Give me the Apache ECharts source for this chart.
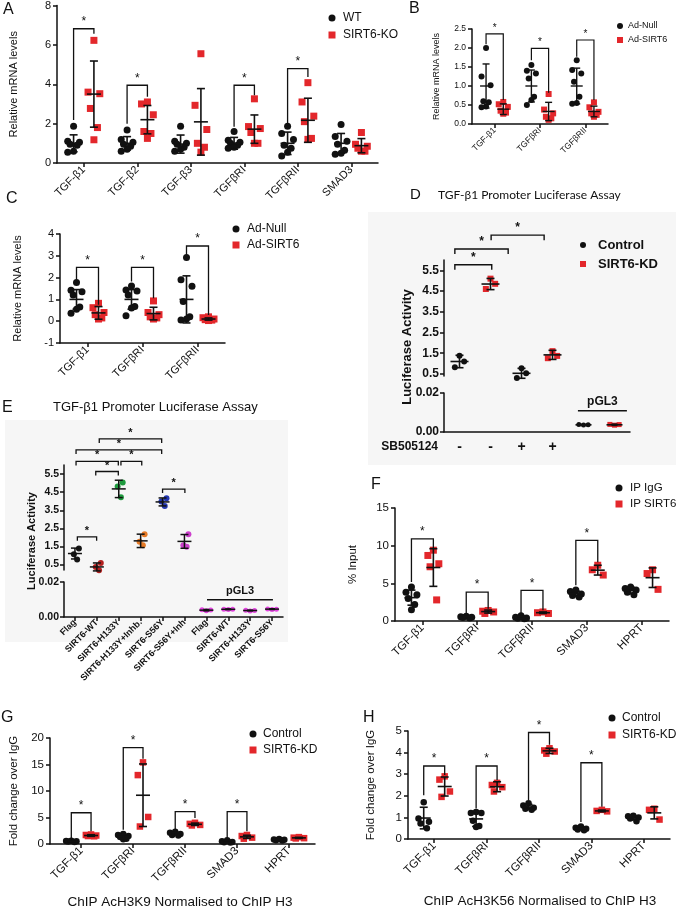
<!DOCTYPE html>
<html>
<head>
<meta charset="utf-8">
<script src="https://cdn.jsdelivr.net/npm/echarts@6.0.0/dist/echarts.min.js"></script>
<style>
  html, body { margin: 0; padding: 0; background: #fff; }
  #chart { width: 676px; height: 908px; }
</style>
</head>
<body>
<div id="chart"></div>
<script>
// ---- A: mouse tissue, WT vs SIRT6-KO
const genesA = ['TGF-β1', 'TGF-β2', 'TGF-β3', 'TGFβRI', 'TGFβRII', 'SMAD3'];
const wtA = [
  [1.87, 1.1, 1.05, 0.95, 0.9, 0.6, 0.55],
  [1.67, 1.2, 1.05, 0.95, 0.85, 0.7, 0.6],
  [1.87, 1.1, 1.0, 0.95, 0.8, 0.7, 0.6],
  [1.6, 1.15, 1.05, 1.0, 0.9, 0.8, 0.75],
  [1.87, 1.5, 1.2, 0.9, 0.75, 0.55, 0.35],
  [1.95, 1.35, 1.1, 0.95, 0.65, 0.5, 0.45]
];
const wtMeanA = [1.0, 1.0, 0.96, 1.0, 1.0, 1.0];
const wtSdA = [0.43, 0.34, 0.46, 0.3, 0.57, 0.5];
const koA = [
  [6.23, 3.6, 3.52, 2.77, 1.8, 1.18],
  [3.1, 3.0, 2.45, 1.6, 1.5, 1.25],
  [5.55, 2.93, 1.7, 1.0, 0.8, 0.55],
  [3.26, 1.85, 1.75, 1.55, 1.0, 1.0],
  [4.08, 3.1, 2.38, 2.1, 1.25, 1.2],
  [1.55, 0.95, 0.85, 0.75, 0.6, 0.6]
];
const koMeanA = [3.5, 2.2, 2.09, 1.72, 2.17, 0.88];
const koSdA = [1.68, 0.72, 1.69, 0.72, 1.12, 0.36];
// [category, left leg end, bracket top, right leg end]
const sigA = [[0, 2.18, 6.82, 6.57], [1, 2.0, 3.95, 3.36], [3, 1.84, 3.95, 3.44], [4, 2.0, 4.79, 4.37]];

// ---- B / C: Ad-Null vs Ad-SIRT6
const genesB = ['TGF-β1', 'TGFβRI', 'TGFβRII'];
const nullB = [
  [2.0, 1.25, 1.02, 0.6, 0.57, 0.46, 0.44],
  [1.55, 1.4, 1.33, 1.2, 0.72, 0.63, 0.5],
  [1.68, 1.42, 1.33, 1.11, 0.72, 0.55, 0.53]
];
const nullMeanB = [1.0, 1.0, 1.0];
const nullSdB = [0.58, 0.42, 0.47];
const sirtB = [
  [0.58, 0.52, 0.45, 0.35, 0.3, 0.27],
  [0.79, 0.38, 0.28, 0.19, 0.15, 0.11],
  [0.57, 0.44, 0.32, 0.28, 0.24, 0.19]
];
const sirtMeanB = [0.39, 0.33, 0.33];
const sirtSdB = [0.14, 0.24, 0.14];
const sigB = [[0, 2.1, 2.37, 0.63], [1, 1.68, 1.99, 0.82], [2, 1.77, 2.21, 0.63]];

const genesC = ['TGF-β1', 'TGFβRI', 'TGFβRII'];
const nullC = [
  [1.77, 1.42, 1.35, 1.2, 0.65, 0.55, 0.37],
  [1.62, 1.43, 1.38, 1.2, 0.67, 0.6, 0.25],
  [2.92, 1.9, 1.6, 0.9, 0.2, 0.1, 0.05]
];
const nullMeanC = [1.0, 1.0, 1.0];
const nullSdC = [0.45, 0.45, 1.08];
const sirtC = [
  [0.82, 0.62, 0.4, 0.3, 0.15, 0.1],
  [0.93, 0.4, 0.3, 0.2, 0.15, 0.1],
  [0.2, 0.16, 0.1, 0.07, 0.05, 0.03]
];
const sirtMeanC = [0.38, 0.35, 0.1];
const sirtSdC = [0.29, 0.29, 0.05];
const sigC = [[0, 1.89, 2.47, 0.75], [1, 1.82, 2.47, 1.05], [2, 3.04, 3.45, 0.29]];

// ---- D: luciferase, Control vs SIRT6-KD, -/+ SB505124
const sbD = ['-', '-', '+', '+', '', ''];
const ctrlD = [[1.38, 1.1, 0.82], [0.78, 0.53, 0.3]];
const ctrlMeanD = [1.1, 0.53];
const ctrlSdD = [0.3, 0.24];
const kdD = [[5.1, 4.85, 4.6], [1.6, 1.37, 1.26]];
const kdMeanD = [4.84, 1.42];
const kdSdD = [0.27, 0.22];
const pglD = [[0.0038, 0.0036, 0.0037], [0.0039, 0.0035, 0.0038]];
const pglMeanD = [0.0037, 0.0037];
const pglSdD = [0.0002, 0.0003];
// [from, to, top] on the x value scale
const sigD = [[0.35, 1.54, 5.77], [0.35, 2.07, 6.53], [1.52, 3.23, 7.2]];

// ---- E: luciferase, SIRT6 mutants
const labelsE = ['Flag', 'SIRT6-WT', 'SIRT6-H133Y', 'SIRT6-H133Y+Inhb.', 'SIRT6-S56Y', 'SIRT6-S56Y+Inh',
                 'Flag', 'SIRT6-WT', 'SIRT6-H133Y', 'SIRT6-S56Y'];
const ptsE = [[1.39, 1.07, 0.78], [0.59, 0.37, 0.18], [5.03, 4.81, 4.22],
              [2.18, 1.76, 1.57], [4.17, 3.98, 3.74], [2.18, 1.57, 1.48]];
const meanE = [1.11, 0.37, 4.68, 1.81, 3.96, 1.78];
const sdE = [0.3, 0.22, 0.48, 0.37, 0.22, 0.38];
const pglE = [[0.0042, 0.0036, 0.004], [0.0045, 0.0043, 0.0044], [0.0038, 0.0035, 0.0037], [0.0046, 0.0043, 0.0045]];
const pglMeanE = [0.0039, 0.0044, 0.0037, 0.0045];
const pglSdE = [0.0004, 0.0002, 0.0002, 0.0002];
const sigE = [[0.61, 1.49, 2.03], [1.45, 2.48, 5.64], [0.55, 2.48, 6.2], [2.6, 3.55, 6.2],
              [0.55, 4.46, 6.83], [1.61, 4.46, 7.44], [4.5, 5.52, 4.67]];

// ---- F: ChIP, IP IgG vs IP SIRT6
const genesF = ['TGF-β1', 'TGFβRI', 'TGFβRII', 'SMAD3', 'HPRT'];
const iggF = [[4.5, 3.8, 3.5, 3.0, 2.2, 1.5], [0.62, 0.55, 0.5, 0.45, 0.4], [0.7, 0.5, 0.4, 0.35, 0.3],
              [4.1, 3.9, 3.6, 3.4, 3.2], [4.5, 4.3, 4.1, 3.8, 3.5]];
const iggMeanF = [3.1, 0.5, 0.45, 3.62, 4.06];
const iggSdF = [1.0, 0.1, 0.15, 0.35, 0.45];
const sirtF = [[9.4, 8.7, 7.6, 7.2, 2.8], [1.4, 1.3, 1.2, 1.0], [1.2, 1.1, 1.0],
               [7.4, 6.8, 6.1], [6.8, 6.3, 4.2]];
const sirtMeanF = [7.1, 1.25, 1.1, 6.75, 5.75];
const sirtSdF = [2.5, 0.2, 0.1, 0.65, 1.3];
const sigF = [[0, 5.17, 10.9, 9.6], [1, 1.0, 3.84, 1.64], [2, 0.9, 4.06, 1.42], [3, 4.73, 10.7, 7.8]];

// ---- G: AcH3K9
const genesG = ['TGF-β1', 'TGFβRI', 'TGFβRII', 'SMAD3', 'HPRT'];
const ctrlG = [[0.6, 0.55, 0.5, 0.45, 0.4], [1.9, 1.7, 1.5, 1.3, 1.0, 0.9], [2.3, 2.1, 1.9, 1.7, 1.6],
               [0.7, 0.5, 0.4, 0.35, 0.3], [0.95, 0.85, 0.8, 0.7, 0.65]];
const ctrlMeanG = [0.5, 1.38, 1.92, 0.45, 0.79];
const ctrlSdG = [0.08, 0.4, 0.28, 0.16, 0.12];
const kdG = [[1.8, 1.7, 1.6, 1.5, 1.45], [15.4, 13.0, 5.1, 3.3], [4.0, 3.8, 3.6, 3.5],
             [1.7, 1.5, 1.2, 1.0], [1.3, 1.2, 1.1, 1.05]];
const kdMeanG = [1.6, 9.2, 3.72, 1.35, 1.16];
const kdSdG = [0.15, 5.9, 0.22, 0.3, 0.1];
const sigG = [[0, 1.1, 5.9, 2.4], [1, 2.7, 18.2, 16.1], [2, 2.8, 6.1, 4.9], [3, 1.1, 6.1, 2.4]];

// ---- H: AcH3K56
const genesH = ['TGF-β1', 'TGFβRI', 'TGFβRII', 'SMAD3', 'HPRT'];
const ctrlH = [[1.7, 0.95, 0.8, 0.72, 0.5], [1.25, 1.2, 1.2, 0.85, 0.6, 0.55], [1.65, 1.55, 1.45, 1.4, 1.35],
               [0.58, 0.52, 0.48, 0.44, 0.4], [1.08, 1.05, 1.0, 0.95, 0.82]];
const ctrlMeanH = [0.97, 0.93, 1.48, 0.49, 0.98];
const ctrlSdH = [0.5, 0.35, 0.12, 0.07, 0.1];
const kdH = [[2.9, 2.75, 2.2, 1.95], [2.6, 2.5, 2.4, 2.2], [4.2, 4.1, 4.05, 3.95],
             [1.35, 1.3, 1.28], [1.4, 1.35, 0.9]];
const kdMeanH = [2.43, 2.42, 4.08, 1.3, 1.21];
const kdSdH = [0.44, 0.23, 0.12, 0.04, 0.28];
const sigH = [[0, 2.02, 3.38, 2.96], [1, 1.41, 3.38, 2.73], [2, 1.8, 4.93, 4.36], [3, 0.79, 3.53, 1.49]];

// -------------------------------------------------------------------
const INK = '#111';
const RED = '#e3272b';
const FONT = '"Liberation Sans", Arial, sans-serif';
const JIT = [0, -1, 1, -0.6, 0.6, 0, -1, 1];

const option = { animation: false, grid: [], xAxis: [], yAxis: [], series: [], legend: [], graphic: [] };

function merge(a, b) {
  for (const k in b) {
    const v = b[k];
    if (v && typeof v === 'object' && !Array.isArray(v) && a[k] && typeof a[k] === 'object' && !Array.isArray(a[k])) merge(a[k], v);
    else a[k] = v;
  }
  return a;
}

function addGrid(l, t, r, b) {
  option.grid.push({ left: l, top: t, width: r - l, height: b - t });
  return option.grid.length - 1;
}

function catX(gi, min, labels, extra) {
  const vals = labels.map((_, i) => i + 0.5);
  option.xAxis.push(merge({
    gridIndex: gi, type: 'value', min: min, max: labels.length,
    splitLine: { show: false },
    axisLine: { show: true, onZero: false, lineStyle: { color: INK, width: 1.5 } },
    axisTick: { show: true, customValues: vals, length: 4, lineStyle: { color: INK, width: 1.5 } },
    axisLabel: { customValues: vals, formatter: v => labels[Math.floor(v)], rotate: 45,
                 color: INK, fontFamily: FONT, fontSize: 11, margin: 5 }
  }, extra || {}));
}

function valY(gi, min, max, interval, extra) {
  option.yAxis.push(merge({
    gridIndex: gi, type: 'value', min: min, max: max, interval: interval,
    splitLine: { show: false },
    axisLine: { show: true, onZero: false, lineStyle: { color: INK, width: 1.5 } },
    axisTick: { show: true, length: 4, lineStyle: { color: INK, width: 1.5 } },
    axisLabel: { color: INK, fontFamily: FONT, fontSize: 11, margin: 6 },
    nameLocation: 'middle', nameRotate: 90,
    nameTextStyle: { color: INK, fontFamily: FONT, fontSize: 11 }
  }, extra || {}));
}

function dots(gi, name, data, symbol, size, color) {
  option.series.push({
    type: 'scatter', name: name, xAxisIndex: gi, yAxisIndex: gi, data: data,
    symbol: symbol, symbolSize: size, clip: false, silent: true, z: 3,
    itemStyle: { color: color, opacity: 1 }
  });
}

// mean line + SD whiskers, items: [x, mean, sd]
function errorBars(gi, items, o) {
  option.series.push({
    type: 'custom', xAxisIndex: gi, yAxisIndex: gi, data: items, clip: false, silent: true, z: 5,
    renderItem: (params, api) => {
      const x = api.value(0), m = api.value(1), s = api.value(2);
      const pm = api.coord([x, m]), pt = api.coord([x, m + s]), pb = api.coord([x, m - s]);
      const st = { stroke: INK, lineWidth: o.lw };
      return { type: 'group', children: [
        { type: 'line', shape: { x1: pm[0] - o.mw, y1: pm[1], x2: pm[0] + o.mw, y2: pm[1] }, style: st },
        { type: 'line', shape: { x1: pt[0], y1: pt[1], x2: pb[0], y2: pb[1] }, style: st },
        { type: 'line', shape: { x1: pt[0] - o.cw, y1: pt[1], x2: pt[0] + o.cw, y2: pt[1] }, style: st },
        { type: 'line', shape: { x1: pb[0] - o.cw, y1: pb[1], x2: pb[0] + o.cw, y2: pb[1] }, style: st }
      ] };
    }
  });
}

// significance brackets; long: [x1, x2, yLeft, top, yRight], short: [x1, x2, top]
function brackets(gi, items, o) {
  option.series.push({
    type: 'custom', xAxisIndex: gi, yAxisIndex: gi, data: items, clip: false, silent: true, z: 6,
    renderItem: (params, api) => {
      const x1 = api.value(0), x2 = api.value(1);
      const top = o.short ? api.value(2) : api.value(3);
      const a = api.coord([x1, top]), b = api.coord([x2, top]);
      const la = o.short ? a[1] + o.leg : api.coord([x1, api.value(2)])[1];
      const lb = o.short ? b[1] + o.leg : api.coord([x2, api.value(4)])[1];
      return { type: 'group', children: [
        { type: 'polyline', shape: { points: [[a[0], la], [a[0], a[1]], [b[0], b[1]], [b[0], lb]] },
          style: { stroke: INK, lineWidth: o.lw, fill: null } },
        { type: 'text', style: { text: '*', x: (a[0] + b[0]) / 2, y: a[1] - o.gap, align: 'center',
          verticalAlign: 'middle', font: o.font, fill: INK } }
      ] };
    }
  });
}

// horizontal rule with a label over it, items: [x1, x2, y]
function groupLabel(gi, items, text, font) {
  option.series.push({
    type: 'custom', xAxisIndex: gi, yAxisIndex: gi, data: items, clip: false, silent: true, z: 6,
    renderItem: (params, api) => {
      const a = api.coord([api.value(0), api.value(2)]), b = api.coord([api.value(1), api.value(2)]);
      return { type: 'group', children: [
        { type: 'line', shape: { x1: a[0], y1: a[1], x2: b[0], y2: b[1] }, style: { stroke: INK, lineWidth: 1.5 } },
        { type: 'text', style: { text: text, x: (a[0] + b[0]) / 2, y: a[1] - 9, align: 'center',
          verticalAlign: 'middle', font: font, fill: INK } }
      ] };
    }
  });
}

function legend(cx, cy, step, textX, fs, size, items, bold) {
  const lh = fs + 2;
  const left = cx - size / 2;
  option.legend.push({
    left: left, top: cy - lh / 2, orient: 'vertical', itemGap: step - lh,
    itemWidth: size, itemHeight: size, selectedMode: false,
    textStyle: { color: INK, fontFamily: FONT, fontSize: fs, fontWeight: bold ? 'bold' : 'normal',
                 lineHeight: lh, padding: [0, 0, 0, Math.max(0, textX - (left + size + 10))] },
    data: items.map(it => ({ name: it[0], icon: it[1] }))
  });
}

function text(x, y, str, font, o) {
  option.graphic.push(merge({ type: 'text', x: x, y: y, z: 10, silent: true,
    style: { text: str, font: font, fill: INK, align: 'left', verticalAlign: 'middle' } }, o || {}));
}

// standard two-group scatter panel
function stdPanel(p) {
  const gi = addGrid(p.box[0], p.box[1], p.box[2], p.box[3]);
  catX(gi, p.xmin || 0, p.names, { axisLabel: { fontSize: p.fs } });
  valY(gi, p.y[0], p.y[1], p.y[2], {
    name: p.yName, nameGap: p.nameGap,
    axisLabel: { fontSize: p.fs, formatter: p.fmt || (v => String(v)) },
    nameTextStyle: { fontSize: p.nameFs || p.fs }
  });
  const errs = [];
  p.groups.forEach((g, j) => {
    const dx = j === 0 ? -p.off : p.off;
    const pts = [];
    g.pts.forEach((vals, i) => {
      vals.forEach((v, k) => pts.push([i + 0.5 + dx + JIT[k % JIT.length] * p.jit, v]));
      errs.push([i + 0.5 + dx, g.mean[i], g.sd[i]]);
    });
    dots(gi, g.name, pts, g.symbol, p.sym, g.color);
  });
  errorBars(gi, errs, p.bar);
  brackets(gi, p.sig.map(s => [s[0] + 0.5 - p.off, s[0] + 0.5 + p.off, s[1], s[2], s[3]]), p.star);
}

const barStd = { lw: 1.6, mw: 7, cw: 4 };
const starStd = { lw: 1.3, gap: 7, font: '12px ' + FONT };

// A
stdPanel({
  box: [57, 5, 378, 163], names: genesA, y: [0, 8, 2], yName: 'Relative mRNA levels', nameGap: 38,
  fs: 11, off: 0.19, jit: 0.11, sym: 7, bar: barStd, star: starStd, sig: sigA,
  groups: [
    { name: 'WT', pts: wtA, mean: wtMeanA, sd: wtSdA, symbol: 'circle', color: INK },
    { name: 'SIRT6-KO', pts: koA, mean: koMeanA, sd: koSdA, symbol: 'rect', color: RED }
  ]
});
legend(327, 13, 17, 343, 12, 7, [['WT', 'circle'], ['SIRT6-KO', 'rect']]);

// B
stdPanel({
  box: [472, 29, 608, 124], names: genesB, y: [0, 2.5, 0.5], yName: 'Relative mRNA levels', nameGap: 31,
  fs: 8.5, nameFs: 9, off: 0.19, jit: 0.1, sym: 6, fmt: v => v.toFixed(1),
  bar: { lw: 1.4, mw: 6, cw: 3.5 }, star: { lw: 1.2, gap: 6, font: '10px ' + FONT }, sig: sigB,
  groups: [
    { name: 'Ad-Null', pts: nullB, mean: nullMeanB, sd: nullSdB, symbol: 'circle', color: INK },
    { name: 'Ad-SIRT6', pts: sirtB, mean: sirtMeanB, sd: sirtSdB, symbol: 'rect', color: RED }
  ]
});
legend(615, 21, 14, 628, 9, 6, [['Ad-Null', 'circle'], ['Ad-SIRT6', 'rect']]);

// C
stdPanel({
  box: [60, 234, 225, 343], names: genesC, y: [-1, 4, 1], yName: 'Relative mRNA levels', nameGap: 37,
  fs: 11, off: 0.2, jit: 0.1, sym: 7, bar: barStd, star: starStd, sig: sigC,
  groups: [
    { name: 'Ad-Null', pts: nullC, mean: nullMeanC, sd: nullSdC, symbol: 'circle', color: INK },
    { name: 'Ad-SIRT6', pts: sirtC, mean: sirtMeanC, sd: sirtSdC, symbol: 'rect', color: RED }
  ]
});
legend(231, 224, 16, 247, 12, 7, [['Ad-Null', 'circle'], ['Ad-SIRT6', 'rect']]);

// D (broken axis: two grids)
option.graphic.push({ type: 'rect', shape: { x: 368, y: 212, width: 308, height: 253 }, style: { fill: '#f6f6f6' }, z: -10, silent: true });
const boldD = 'bold 12px ' + FONT;
{
  const up = addGrid(444, 260, 630, 376);
  const ticks = [0.5, 1.5, 2.5, 3.5, 4.5, 5.5];
  catX(up, 0, sbD, { axisLine: { show: false }, axisTick: { show: false }, axisLabel: { show: false } });
  valY(up, 0.4, 6.0, undefined, {
    axisTick: { customValues: ticks },
    axisLabel: { customValues: ticks, formatter: v => v.toFixed(1), fontWeight: 'bold', fontSize: 12, margin: 5 }
  });
  const lo = addGrid(444, 393, 630, 432);
  catX(lo, 0, sbD, { axisTick: { show: false },
    axisLabel: { rotate: 0, fontWeight: 'bold', fontSize: 14, margin: 8 } });
  valY(lo, 0, 0.02, 0.02, { axisLabel: { formatter: v => v.toFixed(2), fontWeight: 'bold', fontSize: 12, margin: 5 } });

  const jd = [0, 0.15, -0.15];
  const cPts = [], kPts = [], errs = [];
  ctrlD.forEach((vals, s) => {
    vals.forEach((v, k) => cPts.push([0.5 + 2 * s + jd[k], v]));
    errs.push([0.5 + 2 * s, ctrlMeanD[s], ctrlSdD[s]]);
  });
  kdD.forEach((vals, s) => {
    vals.forEach((v, k) => kPts.push([1.5 + 2 * s + jd[k], v]));
    errs.push([1.5 + 2 * s, kdMeanD[s], kdSdD[s]]);
  });
  dots(up, 'Control', cPts, 'circle', 6, INK);
  dots(up, 'SIRT6-KD', kPts, 'rect', 6, RED);
  errorBars(up, errs, { lw: 1.6, mw: 9, cw: 4 });
  brackets(up, sigD, { short: true, leg: 5, lw: 1.4, gap: 7, font: boldD });

  const jp = [-0.15, 0, 0.15];
  dots(lo, 'Control', pglD[0].map((v, k) => [4.5 + jp[k], v]), 'circle', 5, INK);
  dots(lo, 'SIRT6-KD', pglD[1].map((v, k) => [5.5 + jp[k], v]), 'rect', 5, RED);
  errorBars(lo, [[4.5, pglMeanD[0], pglSdD[0]], [5.5, pglMeanD[1], pglSdD[1]]], { lw: 1.6, mw: 8, cw: 3 });
  groupLabel(lo, [[4.32, 5.9, 0.0109]], 'pGL3', boldD);
}
text(438, 447, 'SB505124', 'bold 12px ' + FONT, { style: { align: 'right' } });
text(407, 347, 'Luciferase Activity', 'bold 13px ' + FONT, { rotation: Math.PI / 2, style: { align: 'center' } });
legend(578, 240, 19, 598, 13, 6, [['Control', 'circle'], ['SIRT6-KD', 'rect']], true);
text(410, 195, 'D', '15px ' + FONT);
text(438, 195, 'TGF-β1 Promoter Luciferase Assay', '12px Lato, ' + FONT);

// E
option.graphic.push({ type: 'rect', shape: { x: 5, y: 420, width: 283, height: 222 }, style: { fill: '#f6f6f6' }, z: -10, silent: true });
const colorsE = ['#151515', '#b3201f', '#1f9b3e', '#e57a26', '#2337b0', '#cc3fcc'];
const pglColorE = '#e244e0';
{
  const up = addGrid(64, 465, 283, 570);
  const ticks = [0.5, 1.5, 2.5, 3.5, 4.5, 5.5];
  catX(up, 0, labelsE, { axisLine: { show: false }, axisTick: { show: false }, axisLabel: { show: false } });
  valY(up, 0.2, 6.0, undefined, {
    axisTick: { customValues: ticks },
    axisLabel: { customValues: ticks, formatter: v => v.toFixed(1), fontWeight: 'bold', fontSize: 10.5, margin: 5 }
  });
  const lo = addGrid(64, 582, 283, 617);
  catX(lo, 0, labelsE, { axisLabel: { fontWeight: 'bold', fontSize: 9, margin: 4 } });
  valY(lo, 0, 0.02, 0.02, { axisLabel: { formatter: v => v.toFixed(2), fontWeight: 'bold', fontSize: 10.5, margin: 5 } });

  const je = [0.18, -0.05, 0.1];
  const errs = [];
  ptsE.forEach((vals, i) => {
    dots(up, labelsE[i], vals.map((v, k) => [i + 0.5 + je[k], v]), 'circle', 6, colorsE[i]);
    errs.push([i + 0.5, meanE[i], sdE[i]]);
  });
  errorBars(up, errs, { lw: 1.5, mw: 7, cw: 4 });
  brackets(up, sigE, { short: true, leg: 4, lw: 1.3, gap: 6, font: 'bold 11px ' + FONT });

  const jp = [-0.2, 0, 0.2];
  const pp = [], perr = [];
  pglE.forEach((vals, j) => {
    vals.forEach((v, k) => pp.push([6.5 + j + jp[k], v]));
    perr.push([6.5 + j, pglMeanE[j], pglSdE[j]]);
  });
  dots(lo, 'pGL3', pp, 'circle', 5, pglColorE);
  errorBars(lo, perr, { lw: 1.5, mw: 7, cw: 3 });
  groupLabel(lo, [[6.53, 9.54, 0.0099]], 'pGL3', 'bold 11px ' + FONT);
}
text(32, 541, 'Luciferase Activity', 'bold 11px ' + FONT, { rotation: Math.PI / 2, style: { align: 'center' } });
text(2, 408, 'E', '16px ' + FONT);
text(53, 407, 'TGF-β1 Promoter Luciferase Assay', '13px ' + FONT);

// F
stdPanel({
  box: [395, 508, 669, 621], names: genesF, y: [0, 15, 5], yName: '% Input', nameGap: 36,
  fs: 11.5, off: 0.2, jit: 0.1, sym: 7, bar: barStd, star: starStd, sig: sigF,
  groups: [
    { name: 'IP IgG', pts: iggF, mean: iggMeanF, sd: iggSdF, symbol: 'circle', color: INK },
    { name: 'IP SIRT6', pts: sirtF, mean: sirtMeanF, sd: sirtSdF, symbol: 'rect', color: RED }
  ]
});
legend(614, 483, 16, 630, 11.5, 7, [['IP IgG', 'circle'], ['IP SIRT6', 'rect']]);
text(371, 485, 'F', '16px ' + FONT);

// G
stdPanel({
  box: [50, 738, 315, 844], xmin: -0.1, names: genesG, y: [0, 20, 5], yName: 'Fold change over IgG', nameGap: 30,
  fs: 11.5, off: 0.19, jit: 0.1, sym: 6.5, bar: barStd, star: starStd, sig: sigG,
  groups: [
    { name: 'Control', pts: ctrlG, mean: ctrlMeanG, sd: ctrlSdG, symbol: 'circle', color: INK },
    { name: 'SIRT6-KD', pts: kdG, mean: kdMeanG, sd: kdSdG, symbol: 'rect', color: RED }
  ]
});
legend(248, 729, 16, 263, 12, 7, [['Control', 'circle'], ['SIRT6-KD', 'rect']]);
text(1, 718, 'G', '16px ' + FONT);
text(180, 902, 'ChIP AcH3K9 Normalised to ChIP H3', '13.5px ' + FONT, { style: { align: 'center' } });

// H
stdPanel({
  box: [408, 731, 670, 839], names: genesH, y: [0, 5, 1], yName: 'Fold change over IgG', nameGap: 31,
  fs: 11.5, off: 0.2, jit: 0.1, sym: 6.5, bar: barStd, star: starStd, sig: sigH,
  groups: [
    { name: 'Control', pts: ctrlH, mean: ctrlMeanH, sd: ctrlSdH, symbol: 'circle', color: INK },
    { name: 'SIRT6-KD', pts: kdH, mean: kdMeanH, sd: kdSdH, symbol: 'rect', color: RED }
  ]
});
legend(607, 713, 17, 622, 12, 7, [['Control', 'circle'], ['SIRT6-KD', 'rect']]);
text(363, 718, 'H', '16px ' + FONT);
text(540, 901, 'ChIP AcH3K56 Normalised to ChIP H3', '13.5px ' + FONT, { style: { align: 'center' } });

// panel letters A-C
text(3, 10, 'A', '16px ' + FONT);
text(409, 9, 'B', '16px ' + FONT);
text(6, 199, 'C', '16px ' + FONT);

const chart = echarts.init(document.getElementById('chart'), null, { renderer: 'canvas' });
chart.setOption(option);
</script>
</body>
</html>
